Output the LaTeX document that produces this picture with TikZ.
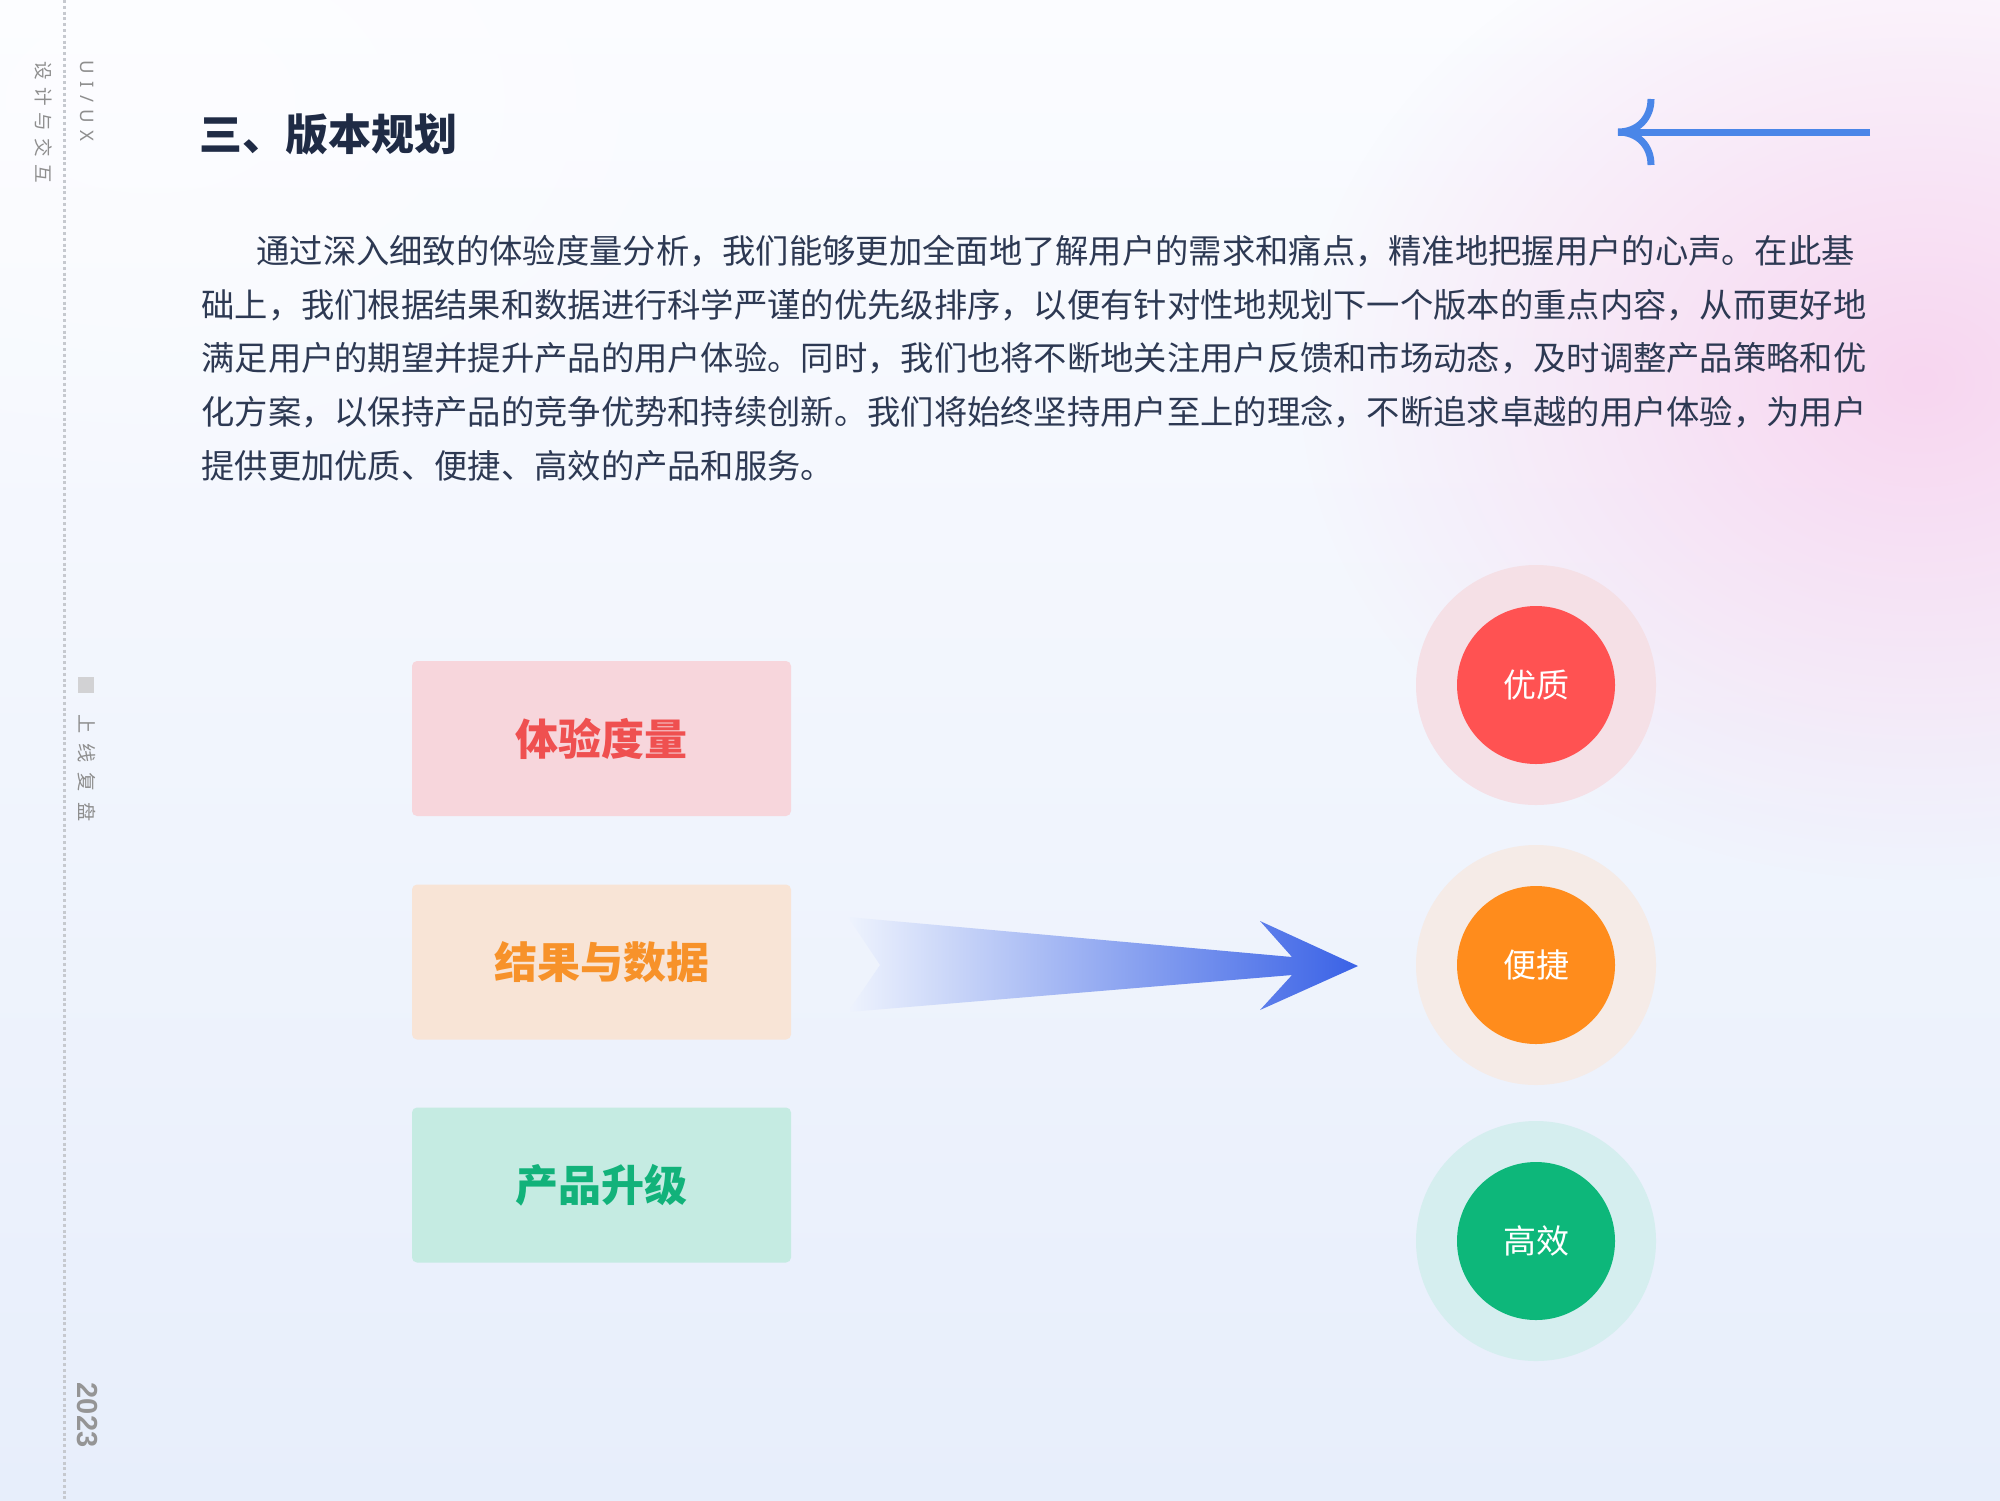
\documentclass[tikz,border=0pt]{standalone}
\usepackage{fontspec}
\setmainfont{Noto Sans CJK SC}
\newfontfamily\latinfont{Liberation Sans}
\newfontfamily\sidelatin[LetterSpace=40]{Noto Sans}
\newfontfamily\sidecjk[LetterSpace=38]{Noto Sans CJK SC}
\newfontfamily\sidecjkwide[LetterSpace=52]{Noto Sans CJK SC}
\usetikzlibrary{fadings,calc}
\definecolor{bgtop}{HTML}{FBFCFF}
\definecolor{bgbot}{HTML}{E7EEFB}
\definecolor{glowpink}{HTML}{F8D6F0}
\definecolor{titlecol}{HTML}{1F2B45}
\definecolor{paracol}{HTML}{2D3953}
\definecolor{sidegray}{HTML}{8E8E8E}
\definecolor{yeargray}{HTML}{959595}
\definecolor{dotgray}{HTML}{C6C9CF}
\definecolor{sqgray}{HTML}{D2D2D4}
\definecolor{arrowblue}{HTML}{4A86E8}
\definecolor{bigarrowL}{HTML}{EEF3FD}
\definecolor{bigarrowR}{HTML}{3A62E6}
\definecolor{redfill}{HTML}{F7D6DC}
\definecolor{redtext}{HTML}{EF5050}
\definecolor{orangefill}{HTML}{F8E4D6}
\definecolor{orangetext}{HTML}{F7922A}
\definecolor{greenfill}{HTML}{C5EBE2}
\definecolor{greentext}{HTML}{12B27A}
\definecolor{redring}{HTML}{F5E0E6}
\definecolor{orangering}{HTML}{F5EBE7}
\definecolor{greenring}{HTML}{D5EEEF}
\definecolor{redcore}{HTML}{FF5252}
\definecolor{orangecore}{HTML}{FF8C1C}
\definecolor{greencore}{HTML}{0DB77A}
\tikzfading[name=glowfade, inner color=transparent!0, outer color=transparent!100]
\tikzset{
  para/.style={anchor=west, inner sep=0pt, text=paracol, font=\fontsize{16.65}{20}\selectfont},
  sidetext/.style={inner sep=0pt, text=sidegray, rotate=-90},
  labelbox/.style={rounded corners=2.5pt, minimum width=189.5pt, minimum height=77.5pt, inner sep=0pt, font=\fontsize{21.5}{26}\selectfont\bfseries},
  ring/.style={circle, minimum size=120pt, inner sep=0pt},
  core/.style={circle, minimum size=79pt, inner sep=0pt, text=white, font=\fontsize{16.5}{20}\selectfont}
}
\begin{document}
\begin{tikzpicture}[x=0.5pt,y=-0.5pt]
\useasboundingbox (0,0) rectangle (2000,1500);
% background
\shade[top color=bgtop, bottom color=bgbot] (0,0) rectangle (2000,1500);
\fill[glowpink, path fading=glowfade] (1920,380) ellipse (620 and 500);
\fill[white, opacity=0.5, path fading=glowfade] (150,100) ellipse (700 and 450);

% left rail
\coordinate (railtop) at (64,0);
\coordinate (railbot) at (64,1500);
\draw[dotgray, line width=1.5pt, dash pattern=on 1.5pt off 1.4pt] (railtop) -- (railbot);
\node[sidetext, font=\sidecjk\fontsize{9.3}{10}\selectfont] (design) at (44,122) {设计与交互};
\node[sidetext, font=\sidelatin\fontsize{9.3}{10}\selectfont] (uiux) at (87,101) {UI/UX};
\node[fill=sqgray, minimum size=8pt, inner sep=0pt] (sq) at (86,685) {};
\node[sidetext, font=\sidecjkwide\fontsize{9.6}{10}\selectfont] (review) at (87,768) {上线复盘};
\node[sidetext, text=yeargray, font=\latinfont\bfseries\fontsize{14.5}{16}\selectfont] (year) at (87,1415) {2023};

% title
\node[anchor=west, inner sep=0pt, text=titlecol, font=\fontsize{21.5}{26}\selectfont\bfseries] (title) at (199,134) {三、版本规划};

% top-right arrow
\coordinate (tail) at (1870,132);
\coordinate (tip) at (1618,132);
\coordinate (barbup) at (1651,99);
\coordinate (barbdn) at (1651,165);
\draw[arrowblue, line width=3.5pt] (tail) -- (tip);
\draw[arrowblue, line width=3.5pt] (barbup) .. controls (1651,118) and (1638,132) .. (tip) .. controls (1638,132) and (1651,146) .. (barbdn);

% paragraph
\node[para] (l1) at (201,251) {\kern27.5pt 通过深入细致的体验度量分析，我们能够更加全面地了解用户的需求和痛点，精准地把握用户的心声。在此基};
\node[para] (l2) at (201,305) {础上，我们根据结果和数据进行科学严谨的优先级排序，以便有针对性地规划下一个版本的重点内容，从而更好地};
\node[para] (l3) at (201,358) {满足用户的期望并提升产品的用户体验。同时，我们也将不断地关注用户反馈和市场动态，及时调整产品策略和优};
\node[para] (l4) at (201,412) {化方案，以保持产品的竞争优势和持续创新。我们将始终坚持用户至上的理念，不断追求卓越的用户体验，为用户};
\node[para] (l5) at (201,466) {提供更加优质、便捷、高效的产品和服务。};

% boxes
\node[labelbox, fill=redfill, text=redtext] (b1) at (601.5,738.5) {体验度量};
\node[labelbox, fill=orangefill, text=orangetext] (b2) at (601.5,962) {结果与数据};
\node[labelbox, fill=greenfill, text=greentext] (b3) at (601.5,1185) {产品升级};

% circles
\node[ring, fill=redring] (r1) at (1536,685) {};
\node[core, fill=redcore] (c1) at (1536,685) {优质};
\node[ring, fill=orangering] (r2) at (1536,965) {};
\node[core, fill=orangecore] (c2) at (1536,965) {便捷};
\node[ring, fill=greenring] (r3) at (1536,1241) {};
\node[core, fill=greencore] (c3) at (1536,1241) {高效};

% big gradient arrow
\shade[left color=bigarrowL, right color=bigarrowR, line join=round]
  (848,917) -- (880,965) -- (848,1012) -- (1292,975) -- (1260,1010)
  -- (1358,966) -- (1260,921) -- (1292,957) -- cycle;
\end{tikzpicture}
\end{document}
